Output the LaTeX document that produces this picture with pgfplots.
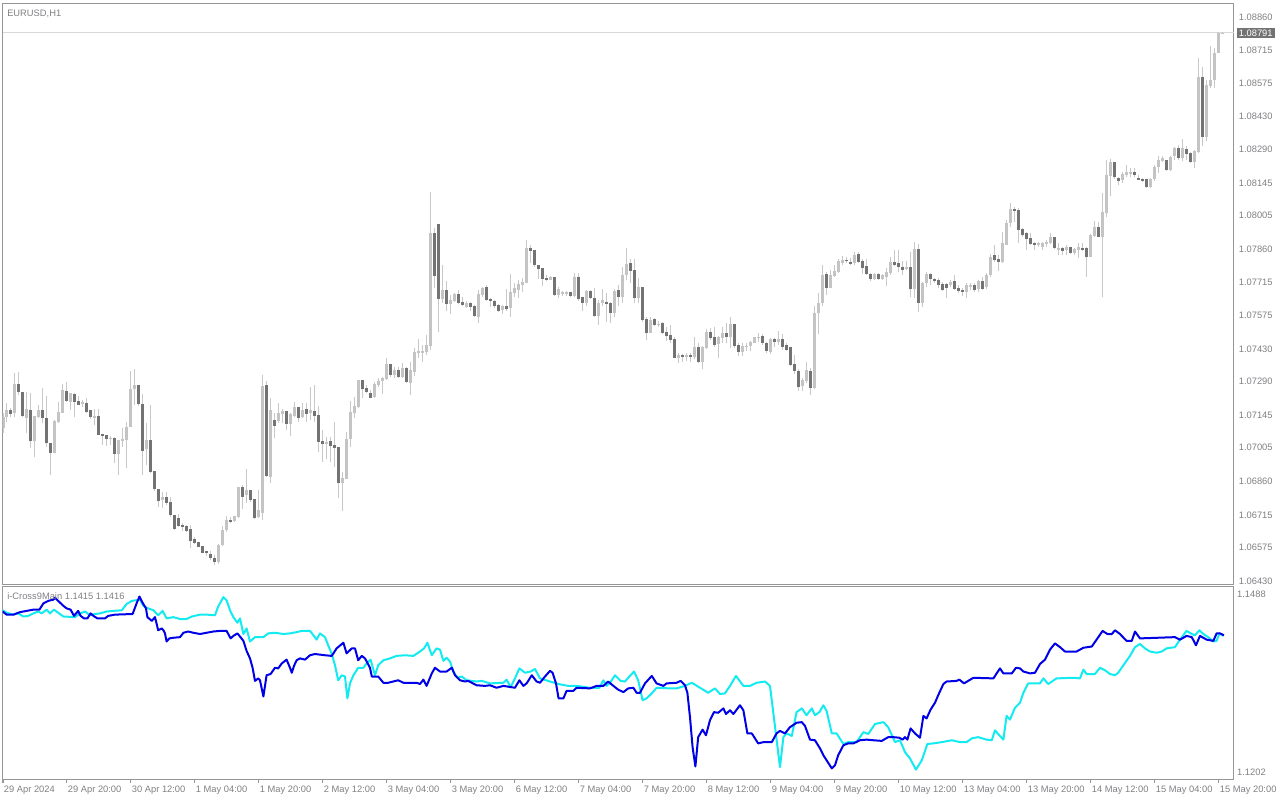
\documentclass[border=0pt]{standalone}
\usepackage{pgfplots}
\pgfplotsset{compat=1.18}
\usepackage{pgfplotstable}
\usepackage{fontspec}
\setmainfont{Liberation Sans}

\definecolor{frame}{RGB}{150,150,150}
\definecolor{lbl}{RGB}{128,128,132}
\definecolor{bull}{RGB}{196,196,196}
\definecolor{bear}{RGB}{115,115,115}
\definecolor{wick}{RGB}{200,200,200}
\definecolor{pline}{RGB}{215,215,215}
\definecolor{ibl}{RGB}{0,0,230}
\definecolor{icy}{RGB}{20,235,240}

% EURUSD H1, prices as (price-1)*1e5
\pgfplotstableread{
x o h l c
0 7088 7152 7066 7135
1 7135 7195 7116 7167
2 7167 7177 7138 7149
3 7152 7325 7138 7279
4 7279 7330 7231 7246
5 7244 7244 7135 7141
6 7131 7243 7069 7169
7 7167 7238 7002 7034
8 7034 7141 6963 7141
9 7138 7188 7131 7167
10 7167 7262 7109 7131
11 7131 7227 7009 7023
12 7023 7023 6887 6980
13 6983 7124 6980 7119
14 7116 7202 7109 7157
15 7152 7279 7152 7253
16 7248 7287 7202 7207
17 7202 7241 7167 7241
18 7236 7238 7138 7202
19 7207 7227 7188 7188
20 7191 7210 7181 7202
21 7195 7217 7152 7159
22 7167 7167 7126 7138
23 7134 7171 7102 7141
24 7141 7169 7059 7059
25 7063 7063 7016 7055
26 7059 7059 7012 7043
27 7043 7055 7016 7047
28 7045 7052 6940 6977
29 6977 7037 6887 7037
30 7034 7088 7009 7042
31 7037 7114 6915 7095
32 7095 7336 7095 7257
33 7256 7345 7188 7274
34 7273 7273 7184 7192
35 7192 7236 6887 6991
36 6997 7109 6930 7037
37 7037 7188 6894 6901
38 6904 6904 6819 6826
39 6826 6826 6747 6776
40 6779 6815 6743 6793
41 6793 6815 6757 6767
42 6770 6793 6707 6714
43 6714 6714 6650 6654
44 6701 6719 6664 6667
45 6671 6678 6647 6664
46 6667 6671 6642 6647
47 6654 6671 6571 6604
48 6612 6621 6589 6595
49 6598 6598 6578 6578
50 6581 6581 6549 6552
51 6561 6561 6538 6549
52 6546 6560 6520 6530
53 6530 6540 6499 6510
54 6510 6590 6505 6585
55 6585 6665 6580 6650
56 6650 6710 6640 6693
57 6693 6705 6680 6688
58 6690 6712 6685 6710
59 6707 6836 6700 6836
60 6834 6844 6740 6793
61 6801 6913 6765 6822
62 6822 6822 6769 6779
63 6783 6783 6696 6703
64 6707 6822 6700 6736
65 6724 7318 6693 7270
66 7274 7292 6880 6883
67 6880 7217 6854 7167
68 7124 7152 7048 7099
69 7119 7196 7109 7152
70 7151 7171 7109 7162
71 7162 7162 7081 7106
72 7105 7152 7056 7148
73 7142 7203 7138 7180
74 7180 7180 7117 7134
75 7137 7196 7131 7167
76 7170 7196 7114 7150
77 7154 7267 7124 7167
78 7162 7274 7117 7142
79 7145 7185 6987 7030
80 7033 7081 6944 7022
81 7022 7052 6956 7030
82 7033 7052 6944 7013
83 7016 7114 6923 7002
84 7007 7007 6789 6854
85 6854 6898 6732 6872
86 6869 7071 6869 7042
87 7042 7206 7009 7157
88 7155 7221 7131 7185
89 7181 7296 7174 7296
90 7296 7296 7220 7257
91 7263 7274 7239 7246
92 7240 7253 7217 7220
93 7224 7289 7220 7277
94 7274 7303 7267 7293
95 7292 7310 7234 7306
96 7300 7389 7296 7365
97 7365 7365 7310 7318
98 7318 7351 7303 7339
99 7339 7353 7306 7309
100 7309 7371 7306 7349
101 7349 7353 7282 7289
102 7285 7375 7231 7339
103 7332 7435 7315 7418
104 7411 7471 7392 7422
105 7414 7447 7375 7421
106 7418 7490 7404 7447
107 7444 8106 7425 7931
108 7931 7949 7694 7744
109 7968 7968 7504 7646
110 7646 7791 7626 7684
111 7684 7724 7595 7623
112 7623 7662 7580 7641
113 7638 7672 7633 7666
114 7666 7684 7623 7629
115 7632 7655 7615 7619
116 7612 7638 7605 7629
117 7629 7633 7595 7612
118 7615 7619 7569 7572
119 7569 7684 7543 7666
120 7662 7698 7655 7694
121 7698 7705 7638 7641
122 7646 7648 7612 7638
123 7638 7641 7605 7615
124 7619 7623 7590 7595
125 7598 7619 7580 7615
126 7615 7687 7595 7601
127 7608 7753 7566 7677
128 7672 7715 7652 7691
129 7684 7727 7648 7710
130 7705 7734 7677 7720
131 7715 7899 7715 7863
132 7863 7878 7801 7852
133 7856 7856 7784 7791
134 7791 7791 7731 7774
135 7777 7777 7701 7731
136 7737 7748 7724 7727
137 7727 7744 7727 7741
138 7741 7741 7658 7662
139 7662 7695 7648 7688
140 7667 7679 7658 7677
141 7667 7681 7658 7677
142 7677 7677 7652 7658
143 7658 7756 7655 7741
144 7741 7756 7638 7644
145 7652 7652 7595 7626
146 7626 7684 7615 7681
147 7681 7684 7644 7648
148 7648 7691 7569 7572
149 7572 7641 7533 7629
150 7626 7687 7615 7641
151 7632 7670 7547 7626
152 7629 7634 7543 7583
153 7586 7687 7566 7679
154 7684 7705 7615 7655
155 7655 7782 7629 7748
156 7748 7863 7727 7796
157 7799 7816 7715 7766
158 7770 7816 7629 7651
159 7651 7734 7629 7695
160 7695 7695 7547 7555
161 7557 7566 7468 7500
162 7500 7566 7497 7555
163 7557 7562 7529 7533
164 7533 7552 7526 7537
165 7540 7547 7494 7500
166 7501 7526 7465 7486
167 7490 7533 7457 7468
168 7473 7480 7389 7392
169 7392 7414 7371 7404
170 7404 7408 7375 7399
171 7399 7414 7379 7404
172 7404 7414 7375 7396
173 7396 7480 7385 7440
174 7440 7454 7370 7375
175 7375 7442 7342 7437
176 7432 7514 7428 7504
177 7504 7519 7468 7476
178 7483 7526 7440 7447
179 7451 7486 7389 7483
180 7476 7526 7454 7500
181 7500 7543 7454 7483
182 7480 7566 7432 7537
183 7537 7537 7432 7442
184 7447 7457 7399 7418
185 7418 7457 7399 7442
186 7440 7454 7422 7442
187 7442 7464 7422 7458
188 7457 7483 7454 7480
189 7476 7500 7461 7483
190 7486 7494 7447 7457
191 7457 7461 7414 7422
192 7418 7476 7408 7471
193 7471 7476 7440 7461
194 7461 7508 7447 7471
195 7471 7494 7425 7440
196 7447 7457 7422 7425
197 7437 7437 7356 7361
198 7365 7404 7322 7336
199 7336 7342 7250 7267
200 7270 7303 7250 7296
201 7293 7375 7282 7339
202 7336 7346 7231 7263
203 7263 7615 7256 7583
204 7583 7669 7494 7626
205 7626 7792 7615 7748
206 7753 7763 7662 7694
207 7694 7770 7691 7748
208 7746 7792 7741 7766
209 7760 7817 7756 7809
210 7799 7832 7792 7813
211 7813 7827 7799 7810
212 7804 7820 7792 7798
213 7799 7849 7792 7835
214 7837 7846 7799 7806
215 7809 7817 7751 7780
216 7787 7817 7748 7751
217 7751 7756 7723 7730
218 7730 7756 7727 7751
219 7751 7756 7727 7730
220 7730 7751 7727 7748
221 7741 7777 7702 7760
222 7756 7827 7748 7806
223 7806 7856 7789 7792
224 7799 7856 7760 7784
225 7784 7809 7748 7770
226 7774 7809 7770 7784
227 7784 7849 7655 7688
228 7688 7889 7648 7860
229 7860 7880 7590 7626
230 7626 7717 7612 7713
231 7713 7763 7698 7751
232 7751 7756 7705 7731
233 7731 7737 7712 7723
234 7727 7734 7694 7705
235 7708 7717 7679 7684
236 7708 7712 7651 7691
237 7705 7727 7698 7717
238 7723 7748 7684 7688
239 7691 7705 7669 7679
240 7684 7694 7659 7677
241 7677 7713 7648 7705
242 7698 7713 7684 7705
243 7705 7713 7677 7684
244 7688 7727 7677 7723
245 7723 7741 7684 7688
246 7698 7756 7688 7748
247 7748 7837 7741 7827
248 7835 7878 7806 7813
249 7817 7835 7766 7806
250 7806 7935 7799 7885
251 7878 7985 7878 7971
252 7971 8057 7957 8033
253 8033 8043 7978 8024
254 8028 8036 7885 7942
255 7945 7949 7914 7921
256 7931 7935 7856 7902
257 7906 7928 7878 7882
258 7888 7892 7856 7878
259 7878 7892 7870 7888
260 7868 7892 7856 7885
261 7882 7899 7870 7892
262 7888 7928 7882 7911
263 7911 7914 7859 7863
264 7856 7885 7835 7865
265 7865 7870 7835 7853
266 7856 7878 7835 7868
267 7868 7870 7839 7842
268 7845 7863 7835 7859
269 7856 7888 7820 7868
270 7865 7888 7853 7859
271 7865 7870 7741 7824
272 7824 7925 7824 7921
273 7916 7982 7911 7954
274 7954 7978 7914 7914
275 7914 8100 7655 8021
276 8017 8244 7997 8179
277 8175 8247 8089 8237
278 8237 8237 8161 8172
279 8165 8172 8136 8155
280 8158 8194 8143 8183
281 8179 8222 8172 8190
282 8184 8208 8172 8192
283 8192 8208 8172 8179
284 8167 8179 8158 8161
285 8161 8165 8150 8155
286 8161 8161 8122 8126
287 8126 8165 8122 8161
288 8161 8222 8155 8215
289 8215 8261 8186 8244
290 8241 8261 8237 8251
291 8244 8244 8198 8201
292 8201 8261 8198 8258
293 8261 8301 8244 8294
294 8294 8308 8244 8251
295 8251 8333 8241 8294
296 8290 8304 8244 8270
297 8275 8280 8230 8237
298 8237 8287 8208 8284
299 8280 8682 8273 8600
300 8600 8646 8304 8341
301 8341 8589 8327 8567
302 8563 8735 8553 8589
303 8589 8725 8553 8706
304 8706 8797 8703 8792
305 8790 8795 8788 8791
}\candles

% i-Cross9Main, first buffer (blue)
\pgfplotstableread{
x v
-0.1 1.1460
0.9 1.1455
2.6 1.1455
4.25 1.1459
5.9 1.1461
7.6 1.1463
9.1 1.1463
10.1 1.1473
11.3 1.1477
12.6 1.1479
13.0 1.1482
13.8 1.1477
15.1 1.1469
15.9 1.1465
16.9 1.1463
17.75 1.1453
18.8 1.1461
19.4 1.1453
20.25 1.1449
21.1 1.1449
21.9 1.1457
22.6 1.1453
23.6 1.1449
25.5 1.1449
26.3 1.1453
28.0 1.1455
32.4 1.1456
33.4 1.1473
34.1 1.1484
34.9 1.1474
35.75 1.1465
36.1 1.1451
37.2 1.1445
38.0 1.1451
38.8 1.1430
39.7 1.1433
40.1 1.1430
40.5 1.1425
40.9 1.1412
41.6 1.1417
42.6 1.1418
44.25 1.1419
45.1 1.1426
46.3 1.1428
47.6 1.1426
49.25 1.1424
50.9 1.1426
52.6 1.1428
54.25 1.1429
55.9 1.1429
56.9 1.1417
57.6 1.1421
58.6 1.1425
59.25 1.1420
60.1 1.1413
60.9 1.1397
61.75 1.1385
62.4 1.1370
63.0 1.1349
63.8 1.1353
64.25 1.1350
65.1 1.1324
65.9 1.1358
66.9 1.1360
68.0 1.1370
68.8 1.1369
69.7 1.1377
70.9 1.1383
71.75 1.1370
72.2 1.1362
72.75 1.1373
73.4 1.1382
74.25 1.1385
75.5 1.1383
76.75 1.1390
78.0 1.1392
80.5 1.1390
82.2 1.1389
83.4 1.1401
85.1 1.1410
85.9 1.1393
87.2 1.1401
88.0 1.1401
88.8 1.1382
89.7 1.1389
90.5 1.1385
91.75 1.1370
92.2 1.1356
93.8 1.1356
95.1 1.1346
96.3 1.1346
98.8 1.1350
100.1 1.1346
103.4 1.1346
104.25 1.1344
105.1 1.1351
105.9 1.1341
107.2 1.1361
108.0 1.1370
109.25 1.1364
110.9 1.1364
112.2 1.1370
113.0 1.1358
114.25 1.1350
115.5 1.1348
116.3 1.1349
118.4 1.1342
120.5 1.1341
121.75 1.1342
123.4 1.1338
125.1 1.1341
128.0 1.1338
129.1 1.1350
130.1 1.1341
130.9 1.1345
132.2 1.1358
133.4 1.1348
134.25 1.1346
135.5 1.1356
136.75 1.1365
137.4 1.1362
138.25 1.1345
138.9 1.1321
140.1 1.1321
140.9 1.1333
142.6 1.1333
143.4 1.1338
146.75 1.1337
148.4 1.1341
150.1 1.1341
151.3 1.1348
152.6 1.1341
153.8 1.1335
155.1 1.1331
156.3 1.1337
157.6 1.1338
158.4 1.1330
159.25 1.1330
160.5 1.1345
162.2 1.1357
163.4 1.1345
165.1 1.1341
165.9 1.1345
168.4 1.1346
169.4 1.1349
170.5 1.1342
171.1 1.1330
171.75 1.1291
172.4 1.1243
173.1 1.1212
173.8 1.1259
174.9 1.1271
175.75 1.1262
176.75 1.1286
177.75 1.1299
178.8 1.1298
180.1 1.1305
180.75 1.1296
181.75 1.1302
182.6 1.1296
184.25 1.1310
185.1 1.1302
186.1 1.1265
187.2 1.1265
188.8 1.1249
190.1 1.1251
192.2 1.1251
193.4 1.1265
194.25 1.1269
195.5 1.1265
196.75 1.1275
198.4 1.1282
199.7 1.1283
200.5 1.1277
201.75 1.1255
203.0 1.1254
204.25 1.1241
205.1 1.1230
206.3 1.1218
207.2 1.1209
208.0 1.1214
208.8 1.1230
210.1 1.1246
211.3 1.1249
212.6 1.1249
214.25 1.1254
215.9 1.1255
217.6 1.1254
219.7 1.1253
221.3 1.1259
222.6 1.1259
224.1 1.1258
224.9 1.1255
225.5 1.1259
226.1 1.1255
226.9 1.1273
228.0 1.1265
229.25 1.1258
230.1 1.1293
230.9 1.1289
231.9 1.1303
233.0 1.1314
233.8 1.1326
235.1 1.1344
235.9 1.1348
238.4 1.1349
239.1 1.1351
240.25 1.1345
241.3 1.1349
242.6 1.1354
247.6 1.1353
249.25 1.1369
250.1 1.1361
252.2 1.1361
253.25 1.1370
254.25 1.1369
255.1 1.1364
256.75 1.1361
258.0 1.1362
259.25 1.1376
260.5 1.1383
261.75 1.1399
263.0 1.1409
264.25 1.1403
265.5 1.1396
268.4 1.1396
270.1 1.1402
272.2 1.1404
273.4 1.1415
274.9 1.1429
276.1 1.1424
277.2 1.1424
278.0 1.1430
279.25 1.1424
280.9 1.1413
282.2 1.1413
283.0 1.1428
284.25 1.1417
293.0 1.1419
294.25 1.1415
295.9 1.1421
297.2 1.1419
298.25 1.1406
299.25 1.1421
300.9 1.1415
302.6 1.1413
303.4 1.1425
304.25 1.1425
305.25 1.1422
}\blueline

% i-Cross9Main, second buffer (aqua)
\pgfplotstableread{
x v
-0.1 1.1462
0.9 1.1458
2.6 1.1455
3.8 1.1457
5.1 1.1452
6.3 1.1453
7.6 1.1457
8.8 1.1460
9.7 1.1457
10.9 1.1463
11.75 1.1457
12.75 1.1463
13.8 1.1458
15.1 1.1452
18.0 1.1451
19.25 1.1457
20.5 1.1460
21.75 1.1454
23.0 1.1456
24.25 1.1457
25.9 1.1460
27.6 1.1461
29.7 1.1462
30.9 1.1472
32.2 1.1477
34.25 1.1479
35.1 1.1469
36.3 1.1465
37.6 1.1462
38.8 1.1454
39.9 1.1461
40.9 1.1449
42.6 1.1451
44.25 1.1448
45.9 1.1448
47.2 1.1452
49.25 1.1455
50.9 1.1455
53.0 1.1454
53.8 1.1468
55.1 1.1483
55.9 1.1478
56.75 1.1462
57.6 1.1451
58.6 1.1442
59.25 1.1449
60.1 1.1424
60.9 1.1433
61.75 1.1412
63.0 1.1419
65.1 1.1419
66.3 1.1425
68.0 1.1426
70.1 1.1424
71.75 1.1425
73.4 1.1427
74.7 1.1429
76.75 1.1429
77.6 1.1422
78.4 1.1415
79.25 1.1425
80.5 1.1419
81.3 1.1406
82.2 1.1392
83.0 1.1374
83.8 1.1350
84.7 1.1358
85.5 1.1356
86.1 1.1321
86.75 1.1345
87.6 1.1358
88.8 1.1370
90.1 1.1370
90.9 1.1377
91.9 1.1383
93.0 1.1358
93.8 1.1374
95.1 1.1382
96.75 1.1385
98.4 1.1389
100.5 1.1390
102.6 1.1389
104.25 1.1396
105.25 1.1401
106.1 1.1410
107.2 1.1390
108.4 1.1401
109.25 1.1399
110.1 1.1381
110.9 1.1386
111.75 1.1380
112.6 1.1364
113.6 1.1354
114.7 1.1356
115.9 1.1350
118.4 1.1348
119.7 1.1349
121.75 1.1345
125.1 1.1346
125.9 1.1351
126.9 1.1339
128.0 1.1353
129.1 1.1369
130.5 1.1362
131.9 1.1364
133.0 1.1368
134.25 1.1353
136.75 1.1348
138.8 1.1344
141.3 1.1341
143.4 1.1341
146.75 1.1338
149.1 1.1338
150.1 1.1350
150.9 1.1341
151.75 1.1346
153.0 1.1358
154.4 1.1349
155.5 1.1348
156.75 1.1357
157.75 1.1364
158.8 1.1350
159.9 1.1318
160.9 1.1321
162.2 1.1329
163.4 1.1338
166.75 1.1337
168.4 1.1337
170.5 1.1341
172.2 1.1346
174.25 1.1338
176.3 1.1330
178.0 1.1337
179.25 1.1328
180.5 1.1329
181.75 1.1341
183.25 1.1357
185.1 1.1341
186.75 1.1341
188.4 1.1346
190.5 1.1348
191.75 1.1341
192.6 1.1297
193.4 1.1255
194.25 1.1211
195.1 1.1259
195.9 1.1265
197.2 1.1261
198.4 1.1299
199.7 1.1305
200.9 1.1294
202.2 1.1305
203.0 1.1294
204.1 1.1299
205.1 1.1310
205.9 1.1301
207.2 1.1265
208.4 1.1265
210.1 1.1248
211.3 1.1251
213.4 1.1251
215.1 1.1267
216.3 1.1264
218.0 1.1280
220.1 1.1283
221.3 1.1275
223.0 1.1251
224.25 1.1254
225.5 1.1235
226.75 1.1225
228.25 1.1207
229.7 1.1222
231.1 1.1248
232.6 1.1249
234.7 1.1251
237.2 1.1254
239.25 1.1251
240.9 1.1251
242.2 1.1257
243.8 1.1259
245.9 1.1255
247.2 1.1254
248.0 1.1270
248.8 1.1264
250.1 1.1255
250.9 1.1293
251.75 1.1287
253.0 1.1306
254.25 1.1314
255.1 1.1330
256.3 1.1345
259.25 1.1345
260.1 1.1353
261.3 1.1344
263.4 1.1353
267.6 1.1354
269.25 1.1353
270.1 1.1367
270.9 1.1360
273.0 1.1360
274.25 1.1370
275.5 1.1366
276.75 1.1360
278.0 1.1358
278.8 1.1362
280.1 1.1374
281.75 1.1389
283.0 1.1403
284.25 1.1408
285.5 1.1401
286.75 1.1396
288.4 1.1394
289.7 1.1396
290.9 1.1401
293.0 1.1403
294.25 1.1415
295.9 1.1429
297.2 1.1424
298.0 1.1422
299.1 1.1430
300.1 1.1424
301.3 1.1419
302.6 1.1412
303.4 1.1413
304.1 1.1425
305.1 1.1421
}\cyanline

\pgfplotsset{
  mt4/.style={
    scale only axis, anchor=north west,
    width=923.6pt,
    xmin=-0.125, xmax=307.75,
    axis line style={frame, line width=0.75pt},
    tick align=outside,
    ytick style={draw=none},
    ticklabel style={font=\fontsize{7}{8}\selectfont, text=lbl},
    ytick pos=right, yticklabel pos=right,
    yticklabel style={anchor=west, inner sep=0pt, xshift=-0.8pt},
  },
  % error bars only: no path, no marks
  bars/.style 2 args={draw=none, mark=none,
    error bars/.cd, y dir=both, y explicit, error mark=none,
    error bar style={draw=#1, line width=#2}},
}

\begin{document}
\begin{tikzpicture}
\useasboundingbox (0,0) rectangle (960pt,-600pt);

% price panel
\begin{axis}[mt4,
  at={(1.875pt,-2.25pt)}, height=435.75pt,
  ymin=6417, ymax=8920,
  xtick=\empty,
  ytick={8860,8715,8575,8430,8290,8145,8005,7860,7715,7575,7430,7290,7145,7005,6860,6715,6575,6430},
  yticklabels={1.08860,1.08715,1.08575,1.08430,1.08290,1.08145,1.08005,1.07860,1.07715,1.07575,1.07430,1.07290,1.07145,1.07005,1.06860,1.06715,1.06575,1.06430},
  extra y ticks={8791}, extra y tick labels={1.08791},
  extra y tick style={yticklabel style={fill=bear, text=white, inner xsep=1.5pt, inner ysep=1.2pt, xshift=-1.5pt}},
]
\addplot[pline, line width=0.75pt] coordinates {(-0.125,8791) (307.75,8791)};
\addplot[bars={wick}{0.75pt}]
  table[x=x, y expr={(\thisrow{h}+\thisrow{l})/2}, y error expr={(\thisrow{h}-\thisrow{l})/2}] {\candles};
\addplot[bars={bull}{2.25pt}]
  table[x=x, y expr={(\thisrow{o}+\thisrow{c})/2},
    y error expr={(\thisrow{c}>=\thisrow{o}) ? max(abs(\thisrow{c}-\thisrow{o})/2,1.5) : 0}] {\candles};
\addplot[bars={bear}{2.25pt}]
  table[x=x, y expr={(\thisrow{o}+\thisrow{c})/2},
    y error expr={(\thisrow{c}<\thisrow{o}) ? max(abs(\thisrow{c}-\thisrow{o})/2,1.5) : 0}] {\candles};
\end{axis}

% indicator panel
\begin{axis}[mt4,
  at={(1.875pt,-439.875pt)}, height=144.375pt,
  ymin=1.1192, ymax=1.1500,
  ytick={1.1488,1.1202}, yticklabels={1.1488,1.1202},
  xtick={0,16,...,304},
  xticklabels={29 Apr 2024,29 Apr 20:00,30 Apr 12:00,1 May 04:00,1 May 20:00,2 May 12:00,3 May 04:00,3 May 20:00,6 May 12:00,7 May 04:00,7 May 20:00,8 May 12:00,9 May 04:00,9 May 20:00,10 May 12:00,13 May 04:00,13 May 20:00,14 May 12:00,15 May 04:00,15 May 20:00},
  xtick pos=bottom, major tick length=3pt,
  xtick style={frame, line width=0.75pt},
  xticklabel style={anchor=north west, inner sep=0pt, xshift=0.5pt, yshift=-2pt},
]
\addplot[icy, line width=1.5pt, line join=round] table[x=x, y=v] {\cyanline};
\addplot[ibl, line width=1.5pt, line join=round] table[x=x, y=v] {\blueline};
\end{axis}

\node[anchor=west, inner sep=0pt, text=lbl, font=\fontsize{7}{8}\selectfont] at (5.25pt,-10.5pt) {EURUSD,H1};
\node[anchor=west, inner sep=0pt, text=lbl, font=\fontsize{7}{8}\selectfont] at (5.25pt,-447pt) {i-Cross9Main 1.1415 1.1416};
\end{tikzpicture}
\end{document}
